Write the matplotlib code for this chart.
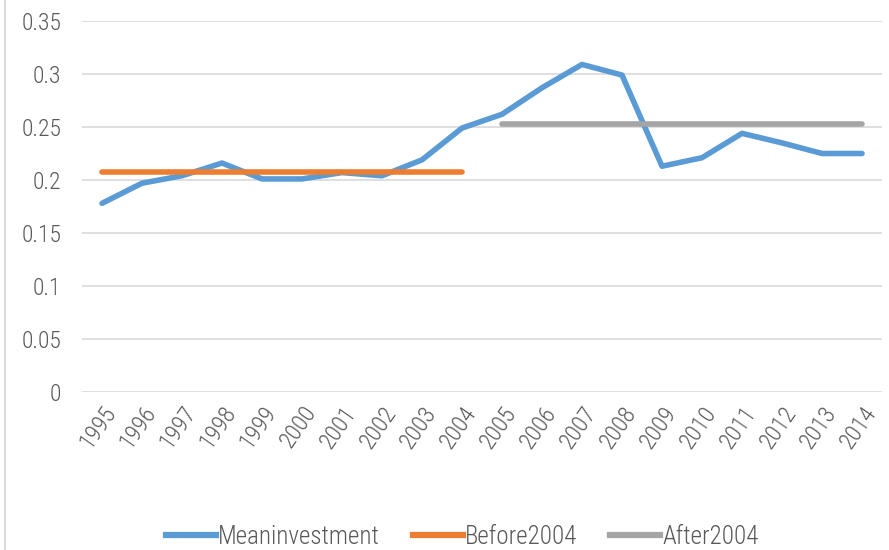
import matplotlib.pyplot as plt
from matplotlib.lines import Line2D
from matplotlib import font_manager

years = [str(y) for y in range(1995, 2015)]
mean_investment = [0.178, 0.197, 0.204, 0.216, 0.201, 0.201, 0.207, 0.204, 0.219, 0.249,
                   0.262, 0.287, 0.309, 0.299, 0.213, 0.221, 0.244, 0.235, 0.225, 0.225]
before_2004 = [0.2075] * 10
after_2004 = [0.2525] * 10
yticks = [0, 0.05, 0.1, 0.15, 0.2, 0.25, 0.3, 0.35]
ytick_labels = ["0", "0.05", "0.1", "0.15", "0.2", "0.25", "0.3", "0.35"]

# narrow font, like the squeezed Calibri of the original
names = {f.name for f in font_manager.fontManager.ttflist}
font = "DejaVu Sans"
for cand in ["Roboto Condensed", "Liberation Sans Narrow", "Open Sans Condensed",
             "Archivo Narrow", "Barlow Semi Condensed"]:
    if cand in names:
        font = cand
        break
plt.rcParams["font.family"] = [font, "DejaVu Sans"]
plt.rcParams["font.weight"] = "light"

text_color = "#595959"
blue, orange, gray = "#5B9BD5", "#ED7D31", "#A5A5A5"

fig = plt.figure(figsize=(8.89, 5.5), dpi=100)
ax = fig.add_axes([82 / 889, 1 - 392 / 550, 800 / 889, 371 / 550])

x = list(range(len(years)))
ax.plot(x, mean_investment, color=blue, lw=4, solid_capstyle="round", solid_joinstyle="round")
ax.plot(x[:10], before_2004, color=orange, lw=4, solid_capstyle="round")
ax.plot(x[10:], after_2004, color=gray, lw=4, solid_capstyle="round")

ax.set_xlim(-0.5, len(years) - 0.5)
ax.set_ylim(0, 0.35)
ax.set_yticks(yticks)
ax.set_yticklabels(ytick_labels, fontsize=17, color=text_color)
ax.set_xticks(x)
ax.set_xticklabels(years, fontsize=17, color=text_color, rotation=55,
                   ha="right", rotation_mode="anchor")
ax.tick_params(axis="both", length=0)
ax.tick_params(axis="y", pad=15)
ax.tick_params(axis="x", pad=7)
ax.grid(axis="y", color="#D9D9D9", lw=1.2)
ax.set_axisbelow(True)
for s in ax.spines.values():
    s.set_visible(False)

# chart border on the left
fig.add_artist(Line2D([5 / 889, 5 / 889], [0, 1], color="#D9D9D9", lw=1.5))

handles = [Line2D([], [], color=blue, lw=4.5),
           Line2D([], [], color=orange, lw=4.5),
           Line2D([], [], color=gray, lw=4.5)]
fig.legend(handles, ["Meaninvestment", "Before2004", "After2004"],
           loc="center", bbox_to_anchor=(0.52, 1 - 537 / 550), ncol=3, frameon=False,
           fontsize=18, labelcolor=text_color, handlelength=2.0, handletextpad=0.1,
           columnspacing=1.3)

fig.savefig("out.png", dpi=100)
